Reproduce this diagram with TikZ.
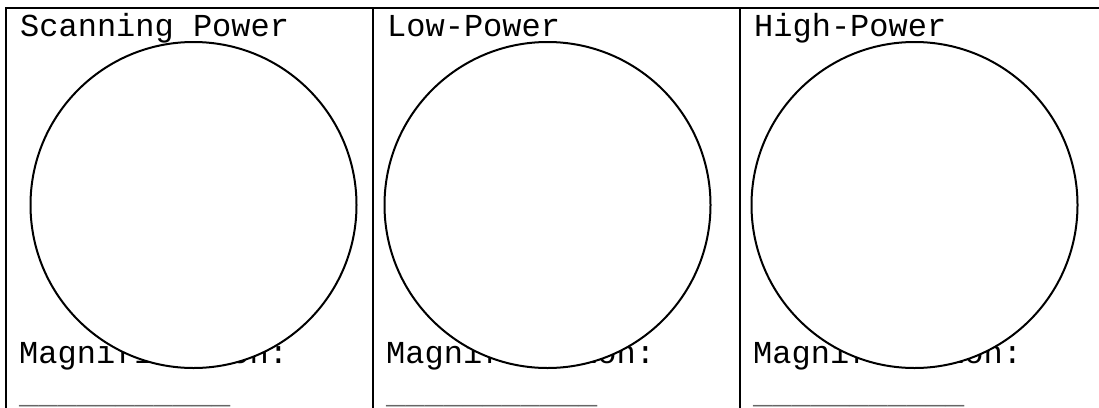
\documentclass[tikz,border=0pt]{standalone}
\usepackage{fontspec}
\newfontfamily\courfont{Liberation Mono}
\begin{document}
\begin{tikzpicture}[x=1pt,y=-1pt,
  rule/.style={line width=2pt,black},
  lens/.style={circle,draw,line width=2pt,fill=white,minimum size=326pt,inner sep=0pt},
  txt/.style={anchor=base west,inner sep=0pt,font=\courfont\fontsize{32}{36}\selectfont},
  blank/.style={txt,text=black!60}]
\useasboundingbox (0,0) rectangle (1099,407);
\clip (0,0) rectangle (1099,407);
% grid lines
\coordinate (tl) at (6,8);
\coordinate (tr) at (1110,8);
\coordinate (bl) at (6,420);
\coordinate (m1t) at (373,8);
\coordinate (m1b) at (373,420);
\coordinate (m2t) at (740,8);
\coordinate (m2b) at (740,420);
\draw[rule] (bl) -- (tl) -- (tr);
\draw[rule] (m1t) -- (m1b);
\draw[rule] (m2t) -- (m2b);
% headings
\node[txt] (h1) at (20,36) {Scanning Power};
\node[txt] (h2) at (387,36) {Low-Power};
\node[txt] (h3) at (754,36) {High-Power};
% magnification labels
\node[txt] (m1) at (19,363) {Magnification:};
\node[txt] (m2) at (386,363) {Magnification:};
\node[txt] (m3) at (753,363) {Magnification:};
\node[blank] (u1) at (19,403) {\_\_\_\_\_\_\_\_\_\_\_};
\node[blank] (u2) at (386,403) {\_\_\_\_\_\_\_\_\_\_\_};
\node[blank] (u3) at (753,403) {\_\_\_\_\_\_\_\_\_\_\_};
% circles
\node[lens] (c1) at (193.5,205) {};
\node[lens] (c2) at (547.5,205) {};
\node[lens] (c3) at (914.5,205) {};
\end{tikzpicture}
\end{document}
